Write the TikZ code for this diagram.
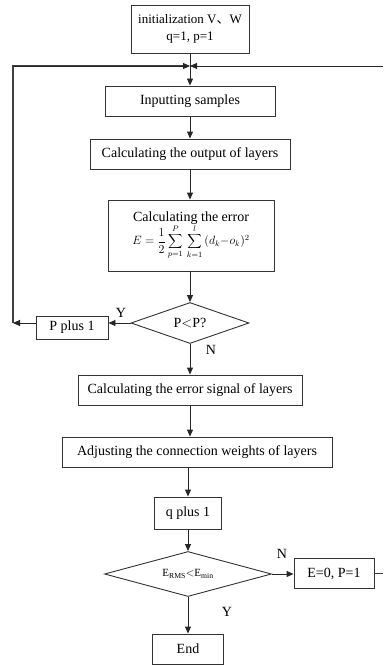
\documentclass[tikz,border=0pt]{standalone}
\usepackage{fontspec}
\setmainfont{Liberation Serif}
\newfontfamily\cjkfont{Noto Sans CJK SC}
\usetikzlibrary{shapes.geometric,arrows.meta}
\tikzset{
  box/.style={draw=black!80, line width=0.9pt, fill=white, inner sep=0pt, align=center, font=\fontsize{14}{16}\selectfont},
  decision/.style={draw=black!80, line width=0.9pt, diamond, inner sep=0pt, align=center, font=\fontsize{14}{16}\selectfont},
  arr/.style={draw=black!85, line width=0.9pt, -{Triangle[length=7pt,width=6pt]}},
  link/.style={draw=black!75, line width=1.1pt},
  lbl/.style={font=\fontsize{14}{16}\selectfont, inner sep=0pt}
}
\begin{document}
\begin{tikzpicture}[x=1pt,y=-1pt]
\useasboundingbox (0,0) rectangle (383,666);
\fill[white] (0,0) rectangle (383,666);

% process steps
\node[box, minimum width=118pt, minimum height=48pt, font=\fontsize{13}{15}\selectfont] (init) at (190,29)
  {initialization V{\cjkfont 、}W\\[2pt] q=1, p=1};
\node[box, minimum width=170pt, minimum height=30pt] (inp) at (190,101) {Inputting samples};
\node[box, minimum width=200pt, minimum height=30pt] (outp) at (190,154) {Calculating the output of layers};
\node[box, minimum width=166pt, minimum height=71pt] (err) at (191,235.5)
  {Calculating the error\\[0pt]
   {\fontsize{12}{14}\selectfont $\displaystyle E=\frac{1}{2}\sum_{p=1}^{P}\,\sum_{k=1}^{l}\,(d_k{-}o_k)^2$}};
\node[decision, minimum width=118pt, minimum height=41pt, aspect=2.9] (d1) at (190,323) {P$<$P?};
\node[box, minimum width=72pt, minimum height=23pt] (pplus) at (72,327.5) {P plus 1};
\node[box, minimum width=224pt, minimum height=30pt] (sig) at (190,390) {Calculating the error signal of layers};
\node[box, minimum width=270pt, minimum height=30pt] (adj) at (197,452) {Adjusting the connection weights of layers};
\node[box, minimum width=67pt, minimum height=32pt] (qplus) at (188,513) {q plus 1};
\node[decision, minimum width=167pt, minimum height=45pt, aspect=3.7, font=\fontsize{11}{13}\selectfont] (d2) at (188,574)
  {E$_{\mathrm{RMS}}$$<$E$_{\mathrm{min}}$};
\node[box, minimum width=80pt, minimum height=30pt] (e0) at (334,573.5) {E=0, P=1};
\node[box, minimum width=71pt, minimum height=30pt] (fin) at (188,649) {End};

% loop junction and free ends
\coordinate (j) at (190,66);
\coordinate (lc) at (13,323);
\coordinate (rtop) at (383,66);
\coordinate (rbot) at (383,573.5);

% main flow
\draw[arr] (init.south) -- (inp.north);
\draw[arr] (inp.south) -- (outp.north);
\draw[arr] (outp.south) -- (outp.south |- err.north);
\draw[arr] (err.south -| d1.north) -- (d1.north);
\draw[arr] (d1.south) -- (d1.south |- sig.north);
\draw[arr] (sig.south) -- (sig.south |- adj.north);
\draw[arr] (qplus.north |- adj.south) -- (qplus.north);
\draw[arr] (qplus.south) -- (d2.north);
\draw[arr] (d2.south) -- (fin.north);

% inner loop over samples
\draw[arr] (d1.west) -- (d1.west -| pplus.east);
\draw[arr] (lc -| pplus.west) -- (lc);
\draw[link] (lc) -- (13,66) -- ([xshift=-6pt]j);
\draw[arr] (13,66) -- (j);

% outer loop over epochs
\draw[arr] (d2.east) -- (d2.east -| e0.west);
\draw[link] (e0.east) -- (rbot);
\draw[arr] (rtop) -- (j);

% branch labels
\node[lbl] at (121,313) {Y};
\node[lbl] at (211,350) {N};
\node[lbl] at (282,554) {N};
\node[lbl] at (227,612) {Y};
\end{tikzpicture}
\end{document}
